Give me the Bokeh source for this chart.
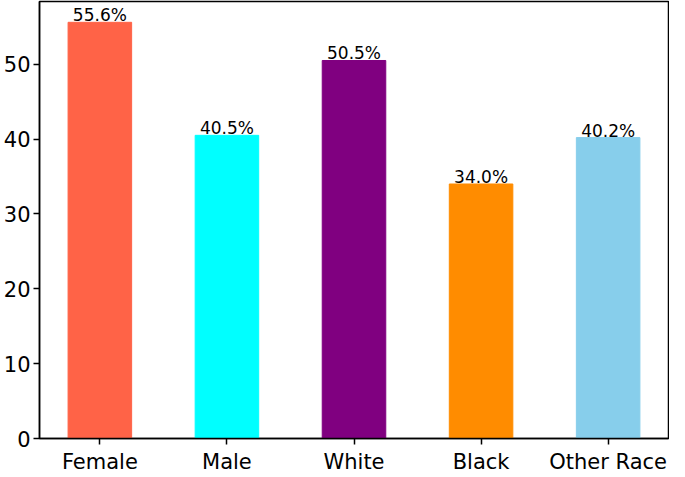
from bokeh.plotting import figure
from bokeh.models import ColumnDataSource, Range1d, FixedTicker
from bokeh.core.properties import value
from bokeh.embed import file_html
from bokeh.resources import INLINE

categories = ["Female", "Male", "White", "Black", "Other Race"]
percentages = [55.6, 40.5, 50.5, 34.0, 40.2]
colors = ["#FF6347", "#00FFFF", "#800080", "#FF8C00", "#87CEEB"]
y_ticks = [0, 10, 20, 30, 40, 50]

xs = list(range(len(categories)))
src = ColumnDataSource(dict(
    x=xs, top=percentages, color=colors,
    label=[f"{v:.1f}%" for v in percentages],
))

ymax = max(percentages) * 1.05
p = figure(width=669, frame_height=437, output_backend="svg", toolbar_location=None,
           x_range=Range1d(-0.475, len(categories) - 1 + 0.475),
           y_range=Range1d(0, ymax),
           min_border_left=0, min_border_right=1, min_border_top=1, min_border_bottom=0)

p.vbar(x="x", top="top", width=0.5, color="color", source=src)
p.text(x="x", y="top", text="label", source=src, text_align="center",
       text_baseline="bottom", y_offset=3,
       text_font=value("DejaVu Sans"), text_font_size="17px", text_color="#000000")

p.xgrid.visible = False
p.ygrid.visible = False
p.outline_line_color = "#000000"
p.outline_line_width = 1.5
p.outline_line_alpha = 1

p.xaxis.ticker = FixedTicker(ticks=xs)
p.xaxis.major_label_overrides = {i: c for i, c in enumerate(categories)}
p.yaxis.ticker = FixedTicker(ticks=y_ticks)

for ax in (p.xaxis, p.yaxis):
    ax.major_label_text_font = "DejaVu Sans"
    ax.major_label_text_font_size = "21px"
    ax.major_label_text_color = "#000000"
    ax.axis_line_color = "#000000"
    ax.axis_line_width = 1.5
    ax.major_tick_line_color = "#000000"
    ax.major_tick_line_width = 1.5
    ax.major_tick_out = 6
    ax.major_tick_in = 0
    ax.minor_tick_line_color = None
    ax.major_label_standoff = 3
p.xaxis.major_label_standoff = 5

open("out.html", "w").write(file_html(p, INLINE))
